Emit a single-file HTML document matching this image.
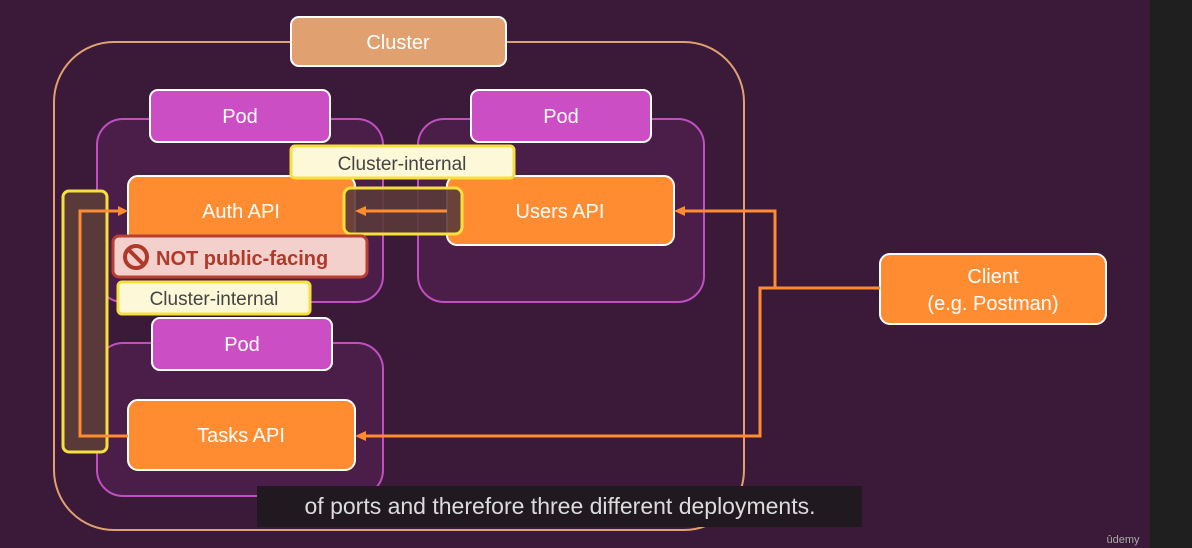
<!DOCTYPE html>
<html><head><meta charset="utf-8"><style>
body{margin:0;background:#3a1a38;width:1192px;height:548px;overflow:hidden;font-family:"Liberation Sans",sans-serif;}
</style></head><body>
<svg width="1192" height="548" viewBox="0 0 1192 548" xmlns="http://www.w3.org/2000/svg" style="position:absolute;left:0;top:0">
<rect x="0" y="0" width="1192" height="548" fill="#3a1a38"/>
<rect x="1150" y="0" width="42" height="548" fill="#1f1f1f"/>
<rect x="54" y="42" width="690" height="488" rx="60" fill="none" stroke="#e0a070" stroke-width="2"/>
<!-- pods -->
<rect x="97" y="119" width="286" height="183" rx="26" fill="#4a1e48" stroke="#c050c0" stroke-width="2"/>
<rect x="418" y="119" width="286" height="183" rx="26" fill="#4a1e48" stroke="#c050c0" stroke-width="2"/>
<rect x="97" y="343" width="286" height="153" rx="26" fill="#4a1e48" stroke="#c050c0" stroke-width="2"/>
<g font-size="20" fill="#fff" text-anchor="middle">
<rect x="291" y="17" width="215" height="49" rx="8" fill="#e0a070" stroke="#fff" stroke-width="2"/>
<text x="398" y="49">Cluster</text>
<rect x="150" y="90" width="180" height="52" rx="8" fill="#cc4ec4" stroke="#fff" stroke-width="2"/>
<text x="240" y="123">Pod</text>
<rect x="471" y="90" width="180" height="52" rx="8" fill="#cc4ec4" stroke="#fff" stroke-width="2"/>
<text x="561" y="123">Pod</text>
<rect x="152" y="318" width="180" height="52" rx="8" fill="#cc4ec4" stroke="#fff" stroke-width="2"/>
<text x="242" y="351">Pod</text>
<rect x="128" y="176" width="227" height="71" rx="10" fill="#ff8c30" stroke="#fff" stroke-width="2"/>
<text x="241" y="218">Auth API</text>
<rect x="447" y="176" width="227" height="69" rx="10" fill="#ff8c30" stroke="#fff" stroke-width="2"/>
<text x="560" y="218">Users API</text>
<rect x="128" y="400" width="227" height="70" rx="10" fill="#ff8c30" stroke="#fff" stroke-width="2"/>
<text x="241" y="442">Tasks API</text>
<rect x="880" y="254" width="226" height="70" rx="10" fill="#ff8c30" stroke="#fff" stroke-width="2"/>
<text x="993" y="283">Client</text>
<text x="993" y="310">(e.g. Postman)</text>
</g>
<!-- highlight boxes -->
<rect x="63" y="191" width="44" height="261" rx="6" fill="#5a3a38" stroke="#f5e040" stroke-width="3"/>
<rect x="344" y="188" width="118" height="46" rx="7" fill="#5a3a38" fill-opacity="0.9" stroke="#f5e040" stroke-width="3"/>
<!-- lines -->
<g stroke="#ff8c30" stroke-width="3" fill="none">
<polyline points="128,436 80,436 80,211 122,211"/>
<line x1="447" y1="211" x2="362" y2="211"/>
<polyline points="880,288 760,288 760,436 362,436"/>
<polyline points="775,288 775,211 682,211"/>
</g>
<g fill="#ff8c30">
<polygon points="128,211 118,206 118,216"/>
<polygon points="355,211 366,206 366,216"/>
<polygon points="355,436 366,431 366,441"/>
<polygon points="674,211 685,206 685,216"/>
</g>
<!-- labels -->
<rect x="291" y="146" width="223" height="32" rx="4" fill="#fdf9d8" stroke="#f5e040" stroke-width="3"/>
<text x="402" y="170" font-size="19" fill="#444" text-anchor="middle">Cluster-internal</text>
<rect x="113" y="236" width="254" height="41" rx="6" fill="#f4d0cc" stroke="#b84030" stroke-width="3"/>
<circle cx="136" cy="257" r="11" fill="none" stroke="#b03a2a" stroke-width="4"/>
<line x1="128" y1="249" x2="144" y2="265" stroke="#b03a2a" stroke-width="4"/>
<text x="156" y="265" font-size="20" font-weight="bold" fill="#b03a2a">NOT public-facing</text>
<rect x="118" y="282" width="192" height="32" rx="4" fill="#fdf9d8" stroke="#f5e040" stroke-width="3"/>
<text x="214" y="305" font-size="19" fill="#444" text-anchor="middle">Cluster-internal</text>
<!-- subtitle -->
<rect x="257" y="486" width="605" height="41" fill="#201a20"/>
<text x="560" y="514" font-size="23" fill="#dcdcdc" text-anchor="middle">of ports and therefore three different deployments.</text>
<text x="1123" y="543" font-size="11" fill="#aaa" text-anchor="middle">ûdemy</text>
</svg>
</body></html>
